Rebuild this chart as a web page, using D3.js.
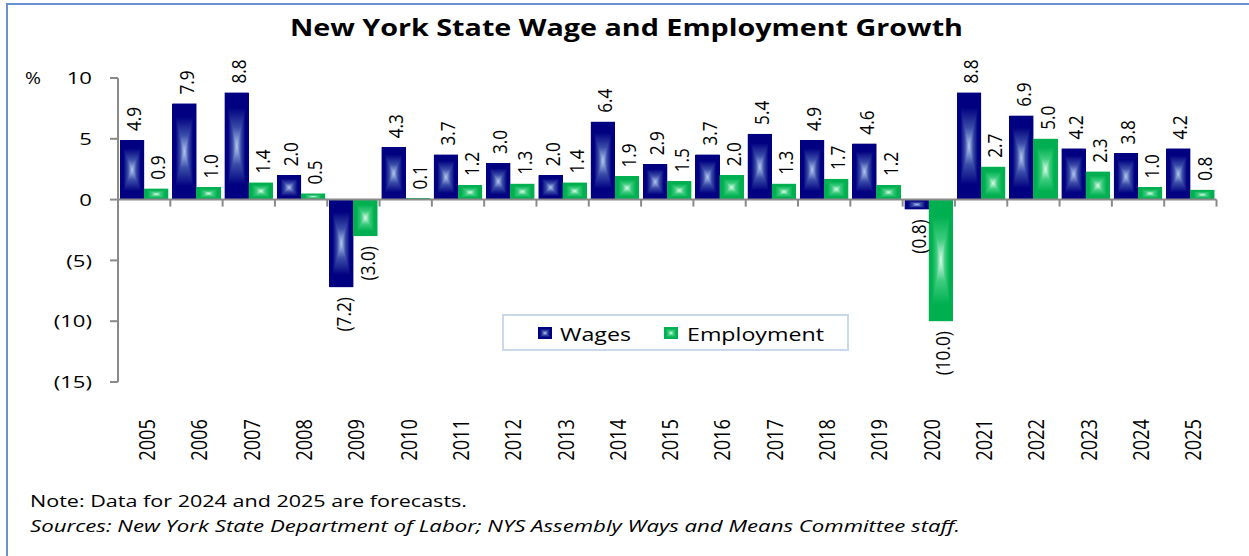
<!DOCTYPE html>
<html><head><meta charset="utf-8">
<script src="https://cdn.jsdelivr.net/npm/d3@7"></script>
<style>body{margin:0;background:#fff}svg{display:block}text{font-family:"Open Sans",sans-serif;fill:#000}</style>
</head><body>
<svg id="c" width="1249" height="556"></svg>
<script>
const years = ["2005","2006","2007","2008","2009","2010","2011","2012","2013","2014","2015","2016","2017","2018","2019","2020","2021","2022","2023","2024","2025"];
const wages = [4.9,7.9,8.8,2.0,-7.2,4.3,3.7,3.0,2.0,6.4,2.9,3.7,5.4,4.9,4.6,-0.8,8.8,6.9,4.2,3.8,4.2];
const employment = [0.9,1.0,1.4,0.5,-3.0,0.1,1.2,1.3,1.4,1.9,1.5,2.0,1.3,1.7,1.2,-10.0,2.7,5.0,2.3,1.0,0.8];
const seriesNames = ["Wages","Employment"];
const yTicks = [10,5,0,-5,-10,-15];
const yTickLabels = ["10","5","0","(5)","(10)","(15)"];

const svg = d3.select("#c");
const fmt = v => v < 0 ? "(" + Math.abs(v).toFixed(1) + ")" : v.toFixed(1);

// frame
svg.append("rect").attr("x",7).attr("y",4).attr("width",1300).attr("height",700)
  .attr("fill","#fff").attr("stroke","#6892d0").attr("stroke-width",2);

const y = d3.scaleLinear().domain([-15,10]).range([382,78]);
const x = d3.scaleBand().domain(years).range([118,1216.5]);
const xs = d3.scaleBand().domain(seriesNames).range([0, x.bandwidth()]).paddingOuter(0.085);

const colors = {Wages:{dark:"#000080",mid:"#3a4ca8",light:"#b4c8ee"}, Employment:{dark:"#00b050",mid:"#3ccc7e",light:"#dcfae9"}};
const defs = svg.append("defs");
const dirs = {t:[0,0,0,1], b:[0,1,0,0], l:[0,0,1,0], r:[1,0,0,0]};
seriesNames.forEach(s => {
  Object.entries(dirs).forEach(([k,[x1,y1,x2,y2]]) => {
    const g = defs.append("linearGradient").attr("id", s+k)
      .attr("x1",x1).attr("y1",y1).attr("x2",x2).attr("y2",y2);
    const c = colors[s];
    [[0,c.dark],[0.28,c.dark],[0.66,c.mid],[1,c.light]].forEach(([o,col]) =>
      g.append("stop").attr("offset",o).attr("stop-color",col));
  });
});

function gradBox(g, s, x0, y0, w, h) {
  const cx = x0 + w/2, cy = y0 + h/2;
  g.append("rect").attr("x",x0).attr("y",y0).attr("width",w).attr("height",h).attr("fill",colors[s].dark);
  const tri = {
    t: [[x0,y0],[x0+w,y0],[cx,cy]],
    b: [[x0,y0+h],[x0+w,y0+h],[cx,cy]],
    l: [[x0,y0],[x0,y0+h],[cx,cy]],
    r: [[x0+w,y0],[x0+w,y0+h],[cx,cy]]
  };
  Object.entries(tri).forEach(([k,pts]) => {
    g.append("path").attr("d","M"+pts.map(p=>p.join(",")).join("L")+"Z")
      .attr("fill","url(#"+s+k+")").attr("shape-rendering","crispEdges");
  });
}

const data = years.map((yr,i) => ({year:yr, Wages:wages[i], Employment:employment[i]}));
const barG = svg.append("g");
data.forEach(d => {
  seriesNames.forEach(s => {
    const v = d[s];
    const x0 = x(d.year) + xs(s);
    const w = xs.bandwidth();
    const y0 = Math.min(y(v), y(0));
    const h = Math.abs(y(v) - y(0));
    gradBox(barG, s, x0, y0, w, h);
  });
});

// value labels
const lblG = svg.append("g");
data.forEach(d => {
  seriesNames.forEach(s => {
    const v = d[s];
    const cx = x(d.year) + xs(s) + xs.bandwidth()/2 + 2;
    const yy = v >= 0 ? y(v) - 9 : y(v) + 10;
    lblG.append("text").attr("font-size",20)
      .attr("text-anchor", v >= 0 ? "start" : "end")
      .attr("dy","0.36em")
      .attr("transform",`translate(${cx},${yy}) rotate(-90) scale(0.86,1)`)
      .text(fmt(v));
  });
});

// axes
const axisColor = "#8a8a8a";
const ax = svg.append("g").attr("stroke",axisColor).attr("stroke-width",2).attr("fill","none");
ax.append("line").attr("x1",118).attr("x2",118).attr("y1",y(10)).attr("y2",y(-15));
yTicks.forEach(t => ax.append("line").attr("x1",110).attr("x2",118).attr("y1",y(t)).attr("y2",y(t)));
ax.append("line").attr("x1",117).attr("x2",x.range()[1]).attr("y1",y(0)).attr("y2",y(0));
years.forEach(yr => ax.append("line").attr("x1",x(yr)+x.bandwidth()).attr("x2",x(yr)+x.bandwidth()).attr("y1",y(0)).attr("y2",y(0)+7));

// y tick labels
yTicks.forEach((t,i) => {
  const tx = svg.append("text").attr("font-size",17).attr("y",y(t)).attr("dy","0.36em").text(yTickLabels[i]);
  const L = tx.node().getComputedTextLength()*1.3;
  tx.attr("x", 92 - L).attr("textLength",L).attr("lengthAdjust","spacingAndGlyphs");
});
svg.append("text").attr("font-size",17).attr("x",25).attr("y",y(10)).attr("dy","0.36em")
  .attr("textLength",16).attr("lengthAdjust","spacingAndGlyphs").text("%");

// year labels
years.forEach(yr => {
  svg.append("text").attr("font-size",22).attr("text-anchor","end").attr("dy","0.36em")
    .attr("transform",`translate(${x(yr)+x.bandwidth()/2+3},419) rotate(-90) scale(0.83,1)`)
    .text(yr);
});

// title
svg.append("text").attr("x",290).attr("y",36).attr("font-size",24).attr("font-weight","bold")
  .attr("textLength",673).attr("lengthAdjust","spacingAndGlyphs")
  .text("New York State Wage and Employment Growth");

// legend
const lg = svg.append("g");
lg.append("rect").attr("x",503).attr("y",315).attr("width",345).attr("height",35)
  .attr("fill","#fff").attr("stroke","#cad8ec").attr("stroke-width",2);
const legPos = [{sx:538, tx:560, tl:71},{sx:664, tx:687, tl:137}];
seriesNames.forEach((s,i) => {
  gradBox(lg, s, legPos[i].sx, 327, 14, 12);
  lg.append("text").attr("x",legPos[i].tx).attr("y",341).attr("font-size",19)
    .attr("textLength",legPos[i].tl).attr("lengthAdjust","spacingAndGlyphs").text(s);
});

// notes
svg.append("text").attr("x",30).attr("y",507).attr("font-size",17)
  .attr("textLength",437).attr("lengthAdjust","spacingAndGlyphs")
  .text("Note: Data for 2024 and 2025 are forecasts.");
svg.append("text").attr("x",30).attr("y",532).attr("font-size",17).attr("font-style","italic")
  .attr("textLength",930).attr("lengthAdjust","spacingAndGlyphs")
  .text("Sources: New York State Department of Labor; NYS Assembly Ways and Means Committee staff.");
</script>
</body></html>
